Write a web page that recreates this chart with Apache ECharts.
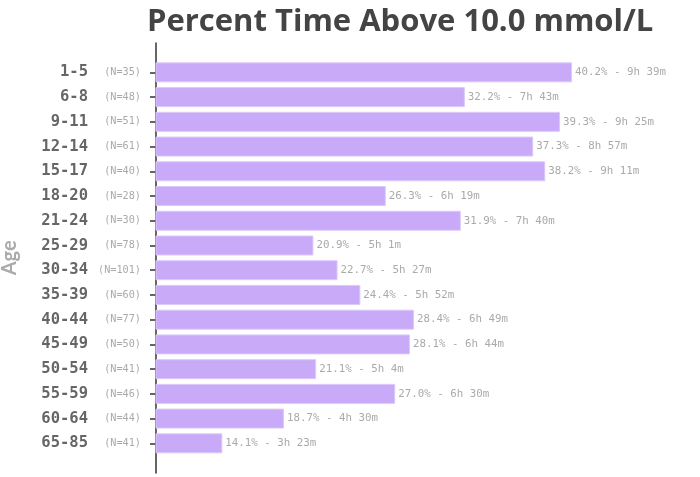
<!DOCTYPE html>
<html>
<head>
<meta charset="utf-8">
<script src="https://cdn.jsdelivr.net/npm/echarts@6/dist/echarts.min.js"></script>
<style>
  html, body { margin: 0; padding: 0; background: #fff; }
  #chart { width: 700px; height: 477px; }
</style>
</head>
<body>
<div id="chart"></div>
<script>
// age groups, sample sizes, % time above 10.0 mmol/L
const ageGroups = ["1-5", "6-8", "9-11", "12-14", "15-17", "18-20", "21-24", "25-29",
  "30-34", "35-39", "40-44", "45-49", "50-54", "55-59", "60-64", "65-85"];
const sampleN = [35, 48, 51, 61, 40, 28, 30, 78, 101, 60, 77, 50, 41, 46, 44, 41];
const pctAbove = [40.2, 32.2, 39.3, 37.3, 38.2, 26.3, 31.9, 20.9, 22.7, 24.4, 28.4, 28.1,
  21.1, 27.0, 18.7, 14.1];
const timeAbove = ["9h 39m", "7h 43m", "9h 25m", "8h 57m", "9h 11m", "6h 19m", "7h 40m",
  "5h 1m", "5h 27m", "5h 52m", "6h 49m", "6h 44m", "5h 4m", "6h 30m", "4h 30m", "3h 23m"];

const mono = "'DejaVu Sans Mono', 'Liberation Mono', monospace";

const chart = echarts.init(document.getElementById("chart"));

const option = {
  animation: false,
  title: {
    text: "Percent Time Above 10.0 mmol/L",
    left: 142,
    top: 2,
    textStyle: {
      fontFamily: "Open Sans",
      fontWeight: "bold",
      fontSize: 31,
      color: "#444",
    },
  },
  grid: [
    { left: 156, right: 60, top: 60, bottom: 21.3, containLabel: false, outerBoundsMode: "none" },
    // only used to draw the long vertical axis line
    { left: 156, width: 10, top: 43, bottom: 4, containLabel: false, outerBoundsMode: "none" },
  ],
  xAxis: [
    { type: "value", gridIndex: 0, min: 9.15, max: 45.27, show: false },
    { type: "value", gridIndex: 1, show: false },
  ],
  yAxis: [
    {
      type: "category",
      gridIndex: 0,
      inverse: true,
      data: ageGroups,
      name: "Age",
      nameLocation: "middle",
      nameRotate: 90,
      nameGap: 136,
      nameTextStyle: {
        fontFamily: "Lato",
        fontWeight: "bold",
        fontSize: 20,
        color: "#aaa",
      },
      axisLine: { show: false },
      axisTick: {
        show: true,
        alignWithLabel: true,
        length: 6,
        lineStyle: { color: "#333", width: 1.5 },
      },
      axisLabel: {
        margin: 15,
        formatter: function (value, idx) {
          return "{a|" + value + "}{b|(N=" + sampleN[idx] + ")}";
        },
        rich: {
          a: {
            fontFamily: mono,
            fontWeight: "bold",
            fontSize: 15.5,
            color: "#666",
            align: "right",
          },
          b: {
            fontFamily: mono,
            fontSize: 10.2,
            color: "#aaa",
            width: 53,
            align: "right",
          },
        },
      },
    },
    {
      type: "value",
      gridIndex: 1,
      min: 0,
      max: 1,
      axisLine: { show: true, lineStyle: { color: "#333", width: 1.5 } },
      axisTick: { show: false },
      axisLabel: { show: false },
      splitLine: { show: false },
    },
  ],
  series: [
    {
      type: "bar",
      xAxisIndex: 0,
      yAxisIndex: 0,
      data: pctAbove,
      barWidth: 20,
      itemStyle: {
        color: "#c8aaf9",
        borderColor: "#dcc9fb",
        borderWidth: 1,
      },
      label: {
        show: true,
        position: "right",
        distance: 3,
        fontFamily: mono,
        fontSize: 10.8,
        color: "#aaa",
        formatter: function (p) {
          return p.value.toFixed(1) + "% - " + timeAbove[p.dataIndex];
        },
      },
    },
  ],
};

chart.setOption(option);
</script>
</body>
</html>
